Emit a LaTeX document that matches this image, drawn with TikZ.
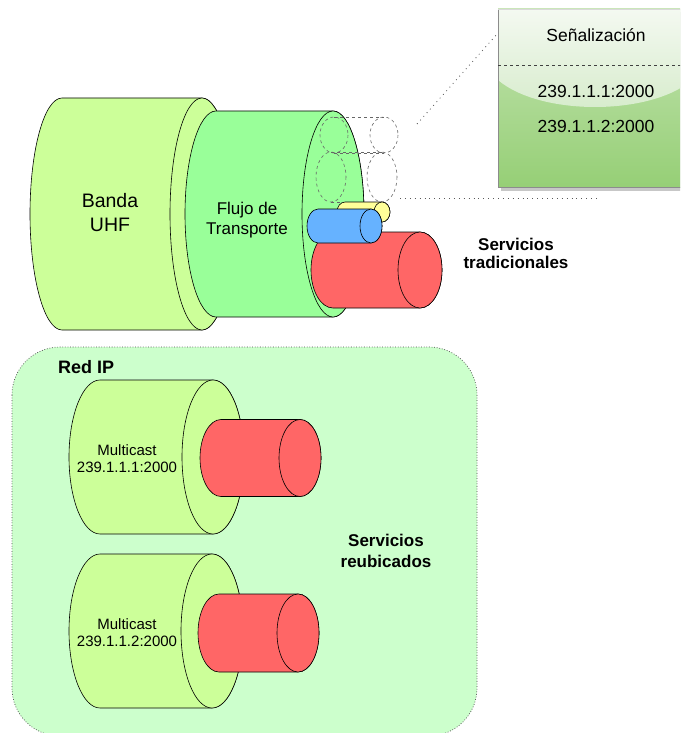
\documentclass[tikz,border=0pt]{standalone}
\usepackage{fontspec}
\setmainfont{Liberation Sans}
\usepackage{tikz}
\usetikzlibrary{arrows}
\usepackage{xcolor}
\tikzset{>=latex}

\definecolor{uhf}{HTML}{CCFF99}
\definecolor{ts}{HTML}{99FF99}
\definecolor{svc}{HTML}{FF6666}
\definecolor{svcblue}{HTML}{66B2FF}
\definecolor{svcyellow}{HTML}{FFFF99}
\definecolor{ipnet}{HTML}{CCFFCC}
\definecolor{sigtop}{HTML}{C4E4B2}
\definecolor{sigbot}{HTML}{96CF76}
\definecolor{glosstop}{HTML}{F4F9F1}
\definecolor{glossbot}{HTML}{D5EBCA}

% lying cylinder: back x, front x, centre y, rx, ry, style
\newcommand{\tubo}[6]{%
  \draw[#6] (#1,#3-#5) -- (#2,#3-#5) arc (-90:90:#4 and #5) -- (#1,#3+#5)
    arc (90:270:#4 and #5) -- cycle;
  \draw[#6] (#2,#3) ellipse (#4 and #5);
}
% dashed outline of a cylinder (both ends shown)
\newcommand{\tubohueco}[5]{%
  \draw[hole] (#1,#3) ellipse (#4 and #5);
  \draw[hole] (#2,#3) ellipse (#4 and #5);
  \draw[hole] (#1,#3-#5) -- (#2,#3-#5);
  \draw[hole] (#1,#3+#5) -- (#2,#3+#5);
}

\begin{document}
\begin{tikzpicture}[x=1pt, y=-1pt]
        % solid = cylinder outline, hole = dashed slot, lbl = plain text
        \tikzstyle{solid}=[draw=black, line width=0.6pt]
        \tikzstyle{hole}=[draw=black!60, dashed, line width=0.6pt]
        \tikzstyle{lbl}=[align=center, inner sep=0pt]
        \tikzstyle{title}=[lbl, font=\bfseries\fontsize{17}{21}\selectfont]
        \tikzstyle{zoomline}=[draw=black!65, line width=0.8pt, dash pattern=on 0.9pt off 4pt]
        \clip (0,0) rectangle (680,733);

        % IP network area
        \draw[fill=ipnet, draw=black!70, line width=0.7pt, dash pattern=on 0.8pt off 1.8pt,
                rounded corners=48] (12,347) rectangle (477,736);

        % broadcast side
        \tubo{62}{202}{214}{32}{116}{solid, fill=uhf}
        \tubo{216}{333}{214}{31}{103}{solid, fill=ts}
        \tubohueco{334}{384}{135}{14}{18}
        \tubohueco{331}{382}{177}{15}{25}
        \tubo{345}{382}{212}{8}{10}{solid, fill=svcyellow}
        \tubo{333}{420}{270}{22}{38}{solid, fill=svc}
        \tubo{318}{371}{226}{11}{17}{solid, fill=svcblue}

        \node[lbl, font=\fontsize{19.5}{24}\selectfont] (uhf) at (110,213) {Banda\\UHF};
        \node[lbl, font=\fontsize{17}{19.5}\selectfont] (flujo) at (247,220) {Flujo de\\Transporte};
        \node[title, font=\bfseries\fontsize{17}{18}\selectfont] (trad) at (516,253) {Servicios\\tradicionales};

        % signalling table
        \fill[black!22] (501,12) rectangle (695,191);
        \shade[top color=sigtop, bottom color=sigbot] (498,9) rectangle (692,187);
        \shade[top color=glosstop, bottom color=glossbot] (498,9) -- (498,80)
                .. controls (540,116) and (650,116) .. (692,80) -- (692,9) -- cycle;
        \draw[black!45, line width=0.6pt] (498,9) -- (498,187) -- (692,187);
        \draw[black!15, line width=0.5pt] (498,9) -- (692,9);
        \draw[black!75, dashed, line width=0.6pt] (498,65) -- (692,65);
        \node[lbl, font=\fontsize{17.5}{21}\selectfont] (sig) at (596,35) {Señalización};
        \node[lbl, font=\fontsize{17.5}{21}\selectfont] (ip1) at (596,91) {239.1.1.1:2000};
        \node[lbl, font=\fontsize{17.5}{21}\selectfont, node distance=35pt] (ip2) [below of = ip1] {239.1.1.2:2000};

        \coordinate (slotA) at (417,124);
        \coordinate (boxA) at (498,33);
        \coordinate (slotB) at (400,198);
        \coordinate (boxB) at (600,198);
        \draw[zoomline] (slotA) -- (boxA);
        \draw[zoomline] (slotB) -- (boxB);

        % relocated services
        \tubo{100}{213}{457}{31}{77}{solid, fill=uhf}
        \tubo{221}{300}{458}{21}{38.5}{solid, fill=svc}
        \tubo{100}{212}{631}{31}{77}{solid, fill=uhf}
        \tubo{219}{298}{633}{21}{39}{solid, fill=svc}

        \node[title, font=\bfseries\fontsize{18}{21}\selectfont, anchor=base west] (red) at (58,373) {Red IP};
        \node[lbl, font=\fontsize{15}{17}\selectfont] (mc1) at (127,459) {Multicast\\239.1.1.1:2000};
        \node[lbl, font=\fontsize{15}{17}\selectfont] (mc2) at (127,633) {Multicast\\239.1.1.2:2000};
        \node[title, font=\bfseries\fontsize{17}{21}\selectfont] (reub) at (386,551) {Servicios\\reubicados};
\end{tikzpicture}
\end{document}
